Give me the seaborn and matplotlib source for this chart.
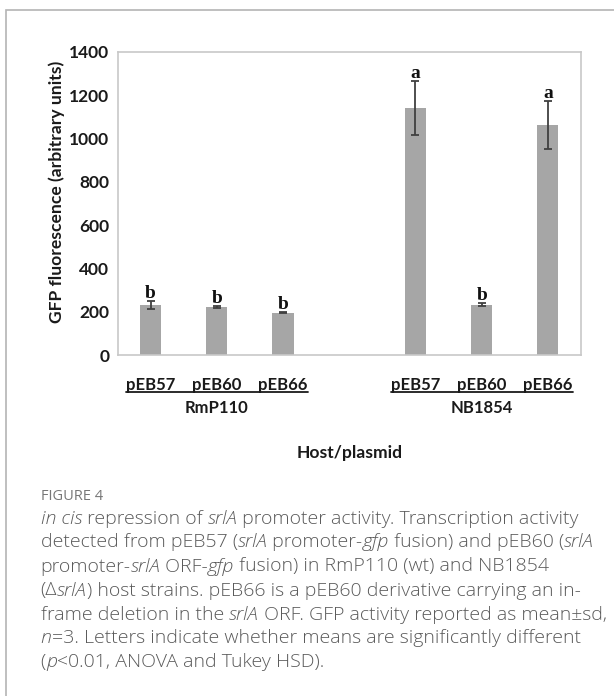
import numpy as np
import pandas as pd
import seaborn as sns
import matplotlib.pyplot as plt
from matplotlib.lines import Line2D
from matplotlib.patches import Rectangle

# values
hosts = ["RmP110", "NB1854"]
plasmids = ["pEB57", "pEB60", "pEB66"]
gfp_mean = [230, 220, 195, 1140, 232, 1063]
gfp_sd = [18, 5, 3, 125, 6, 110]
letters = ["b", "b", "b", "a", "b", "a"]
yticks = [0, 200, 400, 600, 800, 1000, 1200, 1400]

caption_head = "FIGURE 4"
caption = [
    [("in cis", True), (" repression of ", False), ("srlA", True), (" promoter activity. Transcription activity", False)],
    [("detected from pEB57 (", False), ("srlA", True), (" promoter-", False), ("gfp", True),
     (" fusion) and pEB60 (", False), ("srlA", True)],
    [("promoter-", False), ("srlA", True), (" ORF-", False), ("gfp", True), (" fusion) in RmP110 (wt) and NB1854", False)],
    [("(\u0394", False), ("srlA", True), (") host strains. pEB66 is a pEB60 derivative carrying an in-", False)],
    [("frame deletion in the ", False), ("srlA", True), (" ORF. GFP activity reported as mean\u00b1sd,", False)],
    [("n", True), ("=3. Letters indicate whether means are significantly different", False)],
    [("(", False), ("p", True), ("<0.01, ANOVA and Tukey HSD).", False)],
]

sns.set_theme(style="white")
plt.rcParams['font.family'] = ['Lato', 'DejaVu Sans']

W, H = 614, 696
fig = plt.figure(figsize=(W / 100, H / 100), dpi=100)
fig.patch.set_facecolor("white")

def fx(x):
    return x / W

def fy(y):
    return 1 - y / H

# outer panel frame (only left/top edges are visible in the crop)
fig.patches.append(Rectangle((fx(6), -0.05), 1.2, fy(10) + 0.05, transform=fig.transFigure,
                             fill=False, edgecolor="#b4b4b4", lw=1.2))

ax = fig.add_axes([fx(117.5), fy(355), fx(581) - fx(117.5), fy(52) - fy(355)])

df = pd.DataFrame({
    "host": np.repeat(hosts, len(plasmids)),
    "plasmid": plasmids * len(hosts),
    "gfp": gfp_mean,
    "sd": gfp_sd,
    "letter": letters,
})
# leave one empty slot between the two host groups
df["pos"] = [g * (len(plasmids) + 1) + j for g in range(len(hosts)) for j in range(len(plasmids))]

sns.barplot(data=df, x="pos", y="gfp", native_scale=True, width=0.32, color="#a6a6a6",
            saturation=1, errorbar=None, linewidth=0, ax=ax)
ax.errorbar(df["pos"], df["gfp"], yerr=df["sd"], fmt="none", ecolor="#404040",
            elinewidth=1.3, capsize=2.6, capthick=1.3, zorder=3)

for _, r in df.iterrows():
    ax.annotate(r["letter"], (r["pos"], r["gfp"] + r["sd"]), xytext=(0, 2.6),
                textcoords="offset points", ha="center", va="baseline",
                fontfamily="Liberation Serif", fontweight="bold", fontsize=14, color="#111111")

ax.set_xlim(-0.5, 6.5)
ax.set_ylim(0, 1400)
ax.set_yticks(yticks)
ax.set_yticklabels([str(t) for t in yticks], fontweight="bold", fontsize=12.5, color="#1a1a1a")
ax.tick_params(axis="y", length=0, pad=6)
ax.set_xticks([])
ax.set_xlabel("")
ax.set_ylabel("GFP fluorescence (arbitrary units)", fontweight="bold", fontsize=12.6, color="#1a1a1a",
              va="center")
ax.yaxis.set_label_coords((56.5 - 117.5) / 463.5, (355 - 191.5) / 303)
for s in ax.spines.values():
    s.set_color("#c8c8c8")
    s.set_linewidth(1.2)

trans = ax.get_xaxis_transform()
lab_kw = dict(fontweight="bold", fontsize=12, color="#1a1a1a", ha="center")
group_texts = {}
for _, r in df.iterrows():
    t = ax.text(r["pos"], (355 - 390) / 303, r["plasmid"], transform=trans, va="baseline", **lab_kw)
    group_texts.setdefault(r["host"], []).append(t)
for h in hosts:
    sub = df[df["host"] == h]
    ax.text(sub["pos"].mean(), (355 - 408) / 303, h, transform=trans, va="center", **lab_kw)
ax.text(0.5, (355 - 453) / 303, "Host/plasmid", transform=ax.transAxes, va="center",
        **{**lab_kw, "fontsize": 12.6})

fig.canvas.draw()
rend = fig.canvas.get_renderer()
for h in hosts:
    ts = group_texts[h]
    x0 = ts[0].get_window_extent(rend).x0
    x1 = ts[-1].get_window_extent(rend).x1
    fig.lines.append(Line2D([x0 / W, x1 / W], [fy(392.5)] * 2, transform=fig.transFigure,
                            color="#1a1a1a", lw=1.3))

# caption
cap_kw = dict(fontfamily="Open Sans", fontsize=14, fontweight="light", color="#5a5a5a")
fig.text(fx(40.7), fy(500.5), caption_head, fontfamily="Open Sans", fontsize=10.5,
         color="#777777", va="baseline")

def seg_width(txt, style):
    a = fig.text(0, 0, "|" + txt + "|", fontstyle=style, **cap_kw)
    b = fig.text(0, 0, "||", fontstyle=style, **cap_kw)
    w = a.get_window_extent(rend).width - b.get_window_extent(rend).width
    a.remove()
    b.remove()
    return w

line_y = [518.3, 541.7, 566, 590, 614.3, 637.7, 661.7]
for segs, yc in zip(caption, line_y):
    x = 40.7
    for txt, it in segs:
        style = "italic" if it else "normal"
        fig.text(fx(x), fy(yc + 5.5), txt, fontstyle=style, va="baseline", **cap_kw)
        x += seg_width(txt, style)

fig.savefig("out.png", dpi=100)
